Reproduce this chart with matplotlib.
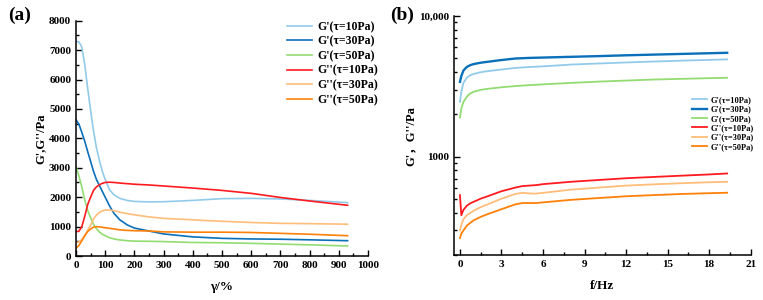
import matplotlib
matplotlib.use("Agg")
import matplotlib.pyplot as plt
from matplotlib.ticker import AutoMinorLocator, MultipleLocator, LogLocator, NullFormatter

plt.rcParams['font.family'] = ['Liberation Serif', 'Noto Sans CJK SC']
plt.rcParams['font.weight'] = 'bold'
plt.rcParams['axes.labelweight'] = 'bold'

labels = ["G'(τ=10Pa)", "G'(τ=30Pa)", "G'(τ=50Pa)",
          "G''(τ=10Pa)", "G''(τ=30Pa)", "G''(τ=50Pa)"]
colors = ['#92cbea', '#0a70ba', '#92dc72', '#ff1a1f', '#ffbd7a', '#ff8008']

# (a) amplitude sweep
strain = [0, 10, 20, 30, 40, 50, 60, 70, 80, 90, 100, 115, 130, 150, 175, 200,
          250, 300, 400, 500, 600, 700, 800, 930]
g1_10 = [7300, 7280, 7100, 6500, 5700, 4950, 4250, 3680, 3250, 2880, 2600, 2250,
         2080, 1960, 1890, 1855, 1840, 1845, 1890, 1950, 1960, 1940, 1890, 1815]
g1_30 = [4630, 4480, 4200, 3900, 3550, 3220, 2880, 2600, 2400, 2200, 2000, 1700,
         1450, 1230, 1060, 950, 850, 750, 650, 600, 580, 570, 550, 520]
g1_50 = [3040, 2720, 2350, 1900, 1550, 1300, 1080, 930, 820, 740, 690, 620,
         580, 545, 520, 505, 500, 490, 460, 450, 430, 405, 380, 340]
g2_10 = [830, 840, 1000, 1350, 1750, 2000, 2230, 2350, 2420, 2470, 2500, 2510,
         2500, 2480, 2460, 2440, 2415, 2380, 2310, 2230, 2130, 1990, 1870, 1725]
g2_30 = [450, 480, 560, 700, 880, 1050, 1260, 1390, 1480, 1530, 1560, 1565,
         1540, 1490, 1440, 1400, 1330, 1280, 1230, 1180, 1140, 1110, 1100, 1080]
g2_50 = [260, 360, 520, 690, 830, 920, 980, 1000, 990, 975, 960, 940,
         920, 890, 870, 860, 850, 820, 810, 810, 800, 770, 740, 690]

# (b) frequency sweep
freq = [0, 0.1, 0.25, 0.5, 0.75, 1, 1.5, 2, 3, 4, 4.5, 5, 5.5, 6, 8, 10, 12,
        14, 16, 18, 19.3]
f1_10 = [2460, 2900, 3350, 3650, 3800, 3880, 3990, 4060, 4170, 4280, 4310, 4340,
         4365, 4390, 4520, 4600, 4680, 4750, 4820, 4880, 4920]
f1_30 = [3410, 3750, 4100, 4350, 4480, 4560, 4660, 4730, 4870, 4990, 5015, 5040,
         5055, 5070, 5130, 5190, 5260, 5320, 5380, 5440, 5480]
f1_50 = [1900, 2200, 2450, 2680, 2820, 2900, 2990, 3040, 3120, 3180, 3205, 3230,
         3250, 3270, 3350, 3420, 3480, 3540, 3580, 3620, 3640]
f2_10 = [535, 385, 420, 450, 468, 480, 505, 525, 570, 605, 620, 625, 630, 640,
         665, 685, 705, 720, 735, 750, 762]
f2_30 = [300, 330, 360, 385, 400, 415, 440, 460, 505, 545, 555, 550, 548, 555,
         585, 605, 625, 638, 650, 660, 665]
f2_50 = [265, 285, 300, 325, 340, 355, 375, 392, 425, 460, 470, 470, 470, 475,
         495, 510, 525, 535, 545, 552, 556]

fig = plt.figure(figsize=(7.63, 3.0), dpi=100)
W, H = 763, 300
axa = fig.add_axes([76 / W, 1 - 256 / H, 292 / W, 235.3 / H])
axb = fig.add_axes([454 / W, 1 - 255.3 / H, 296.7 / W, 239.3 / H])

for ax in (axa, axb):
    ax.spines['top'].set_visible(False)
    ax.spines['right'].set_visible(False)
    for s in ('left', 'bottom'):
        ax.spines[s].set_linewidth(1.1)
    ax.tick_params(which='both', direction='in', labelsize=8, width=1)
    ax.tick_params(which='major', length=4)
    ax.tick_params(which='minor', length=2.5)

series_a = [g1_10, g1_30, g1_50, g2_10, g2_30, g2_50]
for y, c, lab in zip(series_a, colors, labels):
    axa.plot(strain, y, color=c, lw=1.2, label=lab)
axa.set_xlim(0, 1000)
axa.set_ylim(0, 8000)
axa.xaxis.set_major_locator(MultipleLocator(100))
axa.xaxis.set_minor_locator(AutoMinorLocator(2))
axa.yaxis.set_major_locator(MultipleLocator(1000))
axa.yaxis.set_minor_locator(AutoMinorLocator(2))
axa.set_xlabel('γ/%', fontsize=9.5)
axa.set_ylabel("G',G''/Pa", fontsize=9)
axa.xaxis.set_label_coords(0.5, -0.105)
axa.yaxis.set_label_coords(-0.10, 0.5)
axa.legend(loc='upper left', bbox_to_anchor=(287 / W, 1 - 21 / H),
           bbox_transform=fig.transFigure, frameon=False, fontsize=8.5,
           handlelength=2.1, handletextpad=0.45, labelspacing=0.22, borderpad=0,
           borderaxespad=0)

series_b = [f1_10, f1_30, f1_50, f2_10, f2_30, f2_50]
for y, c, lab in zip(series_b, colors, labels):
    axb.plot(freq, y, color=c, lw=1.7 if c == '#0a70ba' else 1.3, label=lab)
axb.set_yscale('log')
axb.set_xlim(-0.43, 21)
axb.set_ylim(200, 10000)
axb.xaxis.set_major_locator(MultipleLocator(3))
axb.xaxis.set_minor_locator(AutoMinorLocator(2))
axb.yaxis.set_minor_locator(LogLocator(subs=range(2, 10)))
axb.yaxis.set_minor_formatter(NullFormatter())
axb.set_yticks([1000, 10000], ['1000', '10,000'])
axb.set_xlabel('f/Hz', fontsize=9.5)
axb.set_ylabel("G'，G''/Pa", fontsize=9)
axb.xaxis.set_label_coords(0.5, -0.103)
axb.yaxis.set_label_coords(-0.125, 0.5)
axb.legend(loc='upper left', bbox_to_anchor=(692 / W, 1 - 96 / H),
           bbox_transform=fig.transFigure, frameon=False, fontsize=6,
           handlelength=1.8, handletextpad=0.45, labelspacing=0.17, borderpad=0,
           borderaxespad=0)

fig.text(20 / W, 1 - 15 / H, '(a)', fontsize=14, ha='center', va='center')
fig.text(402 / W, 1 - 15 / H, '(b)', fontsize=14, ha='center', va='center')

fig.savefig('out.png', dpi=100)
